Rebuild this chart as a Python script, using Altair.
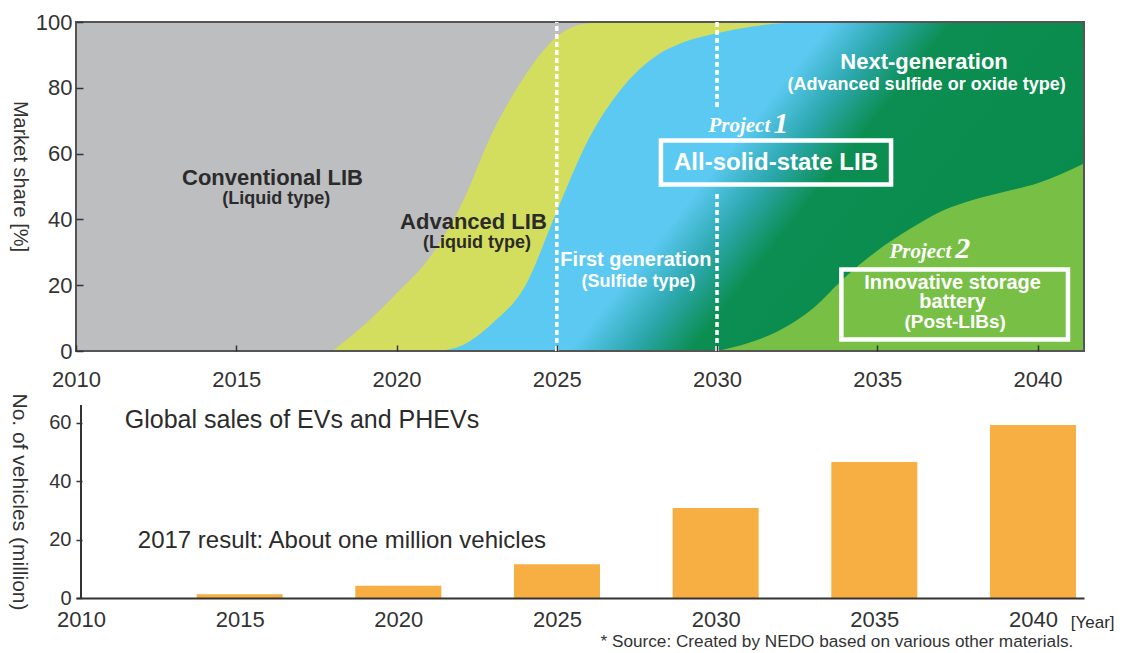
import altair as alt
import pandas as pd

# ---------------- data ----------------
X_DOMAIN = [2010, 2041.45]
YEAR_TICKS = [2010, 2015, 2020, 2025, 2030, 2035, 2040]
SHARE_TICKS = [0, 20, 40, 60, 80, 100]
SALES_TICKS = [0, 20, 40, 60]

# cumulative upper boundary of each technology band (market share, %)
conventional_years = [2010, 2041.45]
conventional_top = [100, 100]
advanced_years = [2018, 2019, 2020, 2021, 2022, 2023, 2024, 2025, 2026, 2027, 2041.45]
advanced_top = [0, 8, 17.5, 28, 44, 66.5, 83.5, 95.5, 99.6, 100, 100]
solid_years = [2021.3, 2022, 2023, 2024, 2025, 2026, 2027, 2028, 2029, 2030, 2031, 2032, 2033, 2041.45]
solid_top = [0, 1.5, 8.5, 19.5, 42.5, 64.5, 79.5, 89, 94, 96.6, 98.5, 99.6, 100, 100]
post_years = [2030, 2031, 2032, 2033, 2034, 2035, 2036, 2037, 2038, 2039, 2040, 2041.45]
post_top = [0, 2.5, 6.5, 13, 22.5, 30.5, 37, 42.5, 46, 48.5, 51, 57]

# global sales of EVs and PHEVs (million vehicles)
sales_years = [2015, 2020, 2025, 2030, 2035, 2040]
sales_million = [1.3, 4.2, 11.5, 30.8, 46.5, 59.2]

# dashed milestone lines (year, from share, to share)
dash_year = [2025, 2030, 2030]
dash_from = [0, 0, 74.2]
dash_to = [100, 47.9, 100]

# white boxes around project names
box_x0 = [2028.25, 2033.88]
box_x1 = [2035.43, 2040.95]
box_y0 = [50.6, 3.5]
box_y1 = [64.0, 24.8]

DARK = "#2b2b2b"
WHITE = "#ffffff"
top_texts = [
    ("Conventional LIB", 2016.13, 50.5, 22, DARK),
    ("(Liquid type)", 2016.25, 44.7, 18, DARK),
    ("Advanced LIB", 2022.40, 37.1, 22, DARK),
    ("(Liquid type)", 2022.51, 31.3, 18, DARK),
    ("First generation", 2027.47, 25.9, 20, WHITE),
    ("(Sulfide type)", 2027.55, 19.5, 18, WHITE),
    ("Next-generation", 2036.46, 85.6, 22, WHITE),
    ("(Advanced sulfide or oxide type)", 2036.54, 79.3, 18, WHITE),
    ("All-solid-state LIB", 2031.84, 55.0, 24, WHITE),
    ("Innovative storage", 2037.35, 18.9, 20, WHITE),
    ("battery", 2037.35, 13.1, 20, WHITE),
    ("(Post-LIBs)", 2037.43, 7.1, 19, WHITE),
]
project_words = [("Project", 2031.66, 66.5, 21, WHITE), ("Project", 2037.31, 28.2, 21, WHITE)]
project_numbers = [("1", 2031.76, 66.4, 30, WHITE), ("2", 2037.43, 28.2, 30, WHITE)]

bottom_texts = [
    ("Global sales of EVs and PHEVs", 2011.38, 58.2, 25, DARK),
    ("2017 result: About one million vehicles", 2011.79, 17.15, 24, DARK),
    ("[Year]", 2041.19, -10.4, 17, DARK),
    ("* Source: Created by NEDO based on various other materials.", 2026.37, -16.6, 17.2, "#333333"),
]

# ---------------- helpers ----------------
def band_df(years, tops):
    return pd.DataFrame({"year": years, "share": tops})

def text_df(rows):
    return pd.DataFrame(rows, columns=["text", "year", "share", "size", "color"])

X_TOP_AXIS = alt.Axis(values=YEAR_TICKS, format="d", title=None, labelFontSize=22, labelColor="#333333",
                      labelFlush=False, labelOverlap=False, labelPadding=18, tickSize=6, offset=-6,
                      tickColor="#333333", tickWidth=1.5, domain=False, grid=False, zindex=1)
Y_TOP_AXIS = alt.Axis(values=SHARE_TICKS, title="Market share [%]", titleAngle=90, titleBaseline="top",
                      titleFontSize=20, titleFontWeight="normal", titleColor="#333333", titlePadding=5.5,
                      titleY=154, labelFontSize=22, labelColor="#333333", labelPadding=4, tickSize=7,
                      offset=-7, tickColor="#333333", tickWidth=1.5, domain=False, grid=False, zindex=1)
X_SCALE = alt.Scale(domain=X_DOMAIN, nice=False, zero=False)
Y_TOP_SCALE = alt.Scale(domain=[0, 100], nice=False)

X_TOP = alt.X("year:Q", scale=X_SCALE, axis=X_TOP_AXIS)
Y_TOP = alt.Y("share:Q", scale=Y_TOP_SCALE, axis=Y_TOP_AXIS)


def area(years, tops, color):
    return alt.Chart(band_df(years, tops)).mark_area(color=color, interpolate="monotone").encode(
        x=X_TOP, y=alt.Y("share:Q", scale=Y_TOP_SCALE, axis=Y_TOP_AXIS, stack=None)
    )

solid_gradient = alt.Gradient(
    gradient="linear",
    x1=0, y1=0.297, x2=1, y2=0.703,
    stops=[
        alt.GradientStop(color="#5BC9F1", offset=0),
        alt.GradientStop(color="#5BC9F1", offset=0.42),
        alt.GradientStop(color="#2CA8AE", offset=0.5),
        alt.GradientStop(color="#0C8E52", offset=0.58),
        alt.GradientStop(color="#078A4A", offset=1),
    ],
)

layers = [
    area(conventional_years, conventional_top, "#BDBEC0"),
    area(advanced_years, advanced_top, "#D4DE5E"),
    area(solid_years, solid_top, solid_gradient),
    area(post_years, post_top, "#77BF45"),
]

border = alt.Chart(pd.DataFrame({"year": [X_DOMAIN[0]], "year2": [X_DOMAIN[1]], "share": [0], "share2": [100]})).mark_rect(
    fillOpacity=0, stroke="#555555", strokeWidth=2
).encode(x=X_TOP, x2="year2:Q", y=Y_TOP, y2="share2:Q")

dashes = alt.Chart(pd.DataFrame({"year": dash_year, "share": dash_from, "share2": dash_to})).mark_rule(
    color="white", strokeWidth=3.5, strokeDash=[5, 3]
).encode(x=X_TOP, y=Y_TOP, y2="share2:Q")

boxes = alt.Chart(pd.DataFrame({"year": box_x0, "year2": box_x1, "share": box_y0, "share2": box_y1})).mark_rect(
    fillOpacity=0, stroke="white", strokeWidth=4.5
).encode(x=X_TOP, x2="year2:Q", y=Y_TOP, y2="share2:Q")

def text_layer(rows, align, font, weight="bold", style="normal"):
    return alt.Chart(text_df(rows)).mark_text(
        align=align, baseline="alphabetic", font=font, fontWeight=weight, fontStyle=style
    ).encode(
        x=X_TOP, y=Y_TOP, text="text:N",
        size=alt.Size("size:Q", scale=None, legend=None),
        color=alt.Color("color:N", scale=None, legend=None),
    )

top = alt.layer(
    *layers,
    border,
    dashes,
    boxes,
    text_layer(top_texts, "center", "Liberation Sans"),
    text_layer(project_words, "right", "Liberation Serif", "bold", "italic"),
    text_layer(project_numbers, "left", "Liberation Serif", "bold", "italic"),
).properties(width=1008, height=329)

# ---------------- bottom chart ----------------
X_BOT_AXIS = alt.Axis(values=YEAR_TICKS, format="d", title=None, labelFontSize=22, labelColor="#333333",
                      labelFlush=False, labelOverlap=False, labelPadding=11, ticks=False, domain=True,
                      domainColor="#333333", domainWidth=2, grid=False, zindex=1)
Y_BOT_AXIS = alt.Axis(values=SALES_TICKS, title="No. of vehicles (million)", titleAngle=90, titleBaseline="top",
                      titleFontSize=21, titleFontWeight="normal", titleColor="#333333", titlePadding=19,
                      labelFontSize=20, labelColor="#333333", labelPadding=5, tickSize=6, offset=-6,
                      tickColor="#333333", tickWidth=1.5, domain=False, grid=False, zindex=1)
X_BOT = alt.X("year:Q", scale=X_SCALE, axis=X_BOT_AXIS)
Y_BOT = alt.Y("value:Q", scale=alt.Scale(domain=[0, 66], nice=False), axis=Y_BOT_AXIS)

bars = alt.Chart(pd.DataFrame({"year": sales_years, "value": sales_million})).mark_bar(
    size=86, color="#F7AE42"
).encode(x=X_BOT, y=Y_BOT)

y_line = alt.Chart(pd.DataFrame({"year": [X_DOMAIN[0]], "value": [0], "value2": [66]})).mark_rule(
    color="#333333", strokeWidth=2
).encode(x=X_BOT, y=Y_BOT, y2="value2:Q")

bottom_text = alt.Chart(
    pd.DataFrame(bottom_texts, columns=["text", "year", "value", "size", "color"])
).mark_text(align="left", baseline="alphabetic", font="Liberation Sans").encode(
    x=X_BOT, y=Y_BOT, text="text:N",
    size=alt.Size("size:Q", scale=None, legend=None),
    color=alt.Color("color:N", scale=None, legend=None),
)

bottom = alt.layer(bars, y_line, bottom_text).properties(width=1008, height=193)

chart = (
    alt.vconcat(top, bottom, spacing=54, bounds="flush")
    .properties(padding={"left": 0, "top": 2, "right": 0, "bottom": 0})
    .configure(font="Liberation Sans")
    .configure_view(stroke="transparent")
)

chart.save("out.html", embed_options={"renderer": "svg", "actions": False})
